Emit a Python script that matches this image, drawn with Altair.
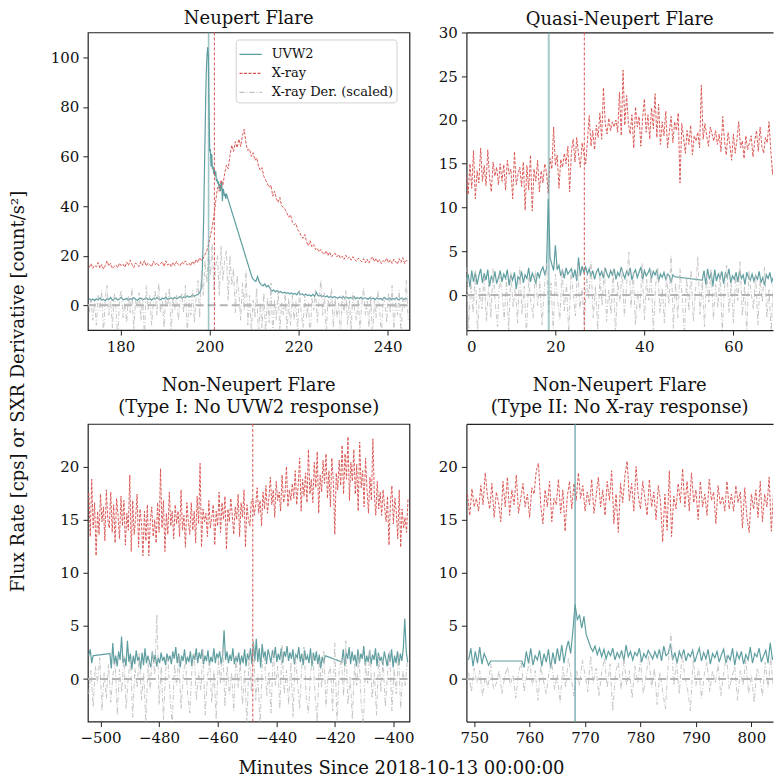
import altair as alt
import pandas as pd

SERIES = ["UVW2", "X-ray", "X-ray Der. (scaled)"]
COLORS = ["#5f9ea0", "#d9534f", "#bdbdbd"]
DASHES = [[1, 0], [3, 1.5], [5, 2, 1, 2]]
FONT = "DejaVu Serif"
FRAME = "#222222"
YLABEL = "Flux Rate [cps] or SXR Derivative [count/s\u00b2]"
XLABEL = "Minutes Since 2018-10-13 00:00:00"

# ---------------- Panel 1: Neupert Flare ----------------
P1_TITLE = "Neupert Flare"
P1_XDOM = [172.7, 244.9]
P1_YDOM = [-10, 110]
P1_XTICKS = [180, 200, 220, 240]
P1_YTICKS = [0, 20, 40, 60, 80, 100]
P1_XR_START, P1_XR_STEP = 173.0, 0.4
P1_XR = [15.2, 16.8, 14.9, 16.1, 15.5, 17.2, 15.0, 16.4, 14.6, 16.0,
         17.9, 15.8, 16.9, 14.8, 15.6, 16.3, 15.1, 17.0, 15.9, 16.6,
         15.3, 17.4, 16.0, 18.2, 16.5, 15.2, 17.1, 16.2, 15.6, 17.6,
         16.1, 18.0, 15.8, 17.0, 16.4, 15.5, 17.8, 16.3, 17.2, 15.9,
         16.8, 17.6, 15.6, 17.9, 16.2, 16.9, 15.5, 17.3, 16.0, 17.7,
         16.4, 15.8, 17.5, 16.6, 17.9, 16.2, 17.0, 15.9, 17.8, 16.5,
         18.5, 17.2, 19.2, 18.0, 19.0, 20.5, 22.0, 24.5, 28.0, 31.5,
         36.0, 42.0, 47.5, 46.0, 50.5, 48.5, 53.0, 56.5, 55.0, 60.5,
         64.5, 62.0, 66.0, 63.5, 67.0, 64.0, 68.5, 71.0, 65.0, 62.5,
         63.0, 60.0, 61.5, 58.5, 59.5, 56.0, 54.5, 55.5, 52.0, 50.5,
         49.0, 47.5, 48.5, 44.0, 46.0, 43.0, 41.5, 43.5, 40.0, 39.5,
         38.5, 37.0, 35.5, 36.5, 33.5, 32.5, 33.0, 30.5, 29.5, 28.0,
         27.0, 28.5, 25.5, 24.0, 26.0, 23.5, 24.5, 22.5, 23.0, 21.5,
         22.5, 21.0, 20.5, 22.0, 20.0, 21.5, 19.5, 20.5, 21.0, 19.5,
         20.5, 19.0, 19.8, 18.5, 20.2, 18.8, 19.5, 18.2, 19.6, 18.4,
         17.8, 19.0, 18.2, 17.5, 18.8, 17.2, 18.6, 17.0, 18.5, 19.6,
         17.6, 18.9, 17.2, 18.4, 16.8, 18.0, 17.4, 19.0, 17.1, 18.3,
         16.9, 18.6, 17.5, 16.6, 18.8, 17.3, 19.2, 16.8, 18.1, 17.6]
P1_UV_SEGS = [
    (173.0, 0.4, [2.8, 2.0, 2.5, 1.9, 2.6, 2.2, 3.0, 2.1, 2.4, 1.8,
                  2.7, 2.3, 3.2, 2.0, 2.5, 2.9, 2.1, 2.6, 3.3, 2.2,
                  2.4, 2.8, 2.0, 2.7, 2.3, 3.1, 2.4, 2.0, 2.6, 2.9,
                  2.2, 2.5, 3.0, 2.3, 2.7, 2.1, 2.8, 2.4, 3.2, 2.5,
                  2.2, 2.9, 2.6, 3.3, 2.4, 2.8, 3.0, 2.5, 3.2, 2.7,
                  3.0, 3.6, 2.9, 3.4, 3.1, 3.8, 3.3, 3.5, 4.2, 3.6,
                  4.0, 4.4, 5.0]),
    (198.1, 0.15, [6.5, 9.5, 15, 24, 36, 52, 68, 84, 95, 101,
                   104, 100, 78, 62, 63, 56, 61, 55, 56, 53,
                   55, 52, 54, 50, 51, 49, 50, 47, 49, 46,
                   48, 50, 42, 47, 46, 44, 45, 43, 45, 44]),
    (209.6, 0.4, [11.0, 10.2, 9.6, 11.6, 9.2, 8.4, 7.8, 8.6, 7.4, 8.0,
                  6.8, 5.6, 6.2, 5.4, 5.9, 5.2, 5.6, 4.9, 5.3, 4.8,
                  5.1, 4.6, 5.0, 4.4, 4.8, 4.2, 5.3, 4.3, 4.6, 4.0,
                  4.5, 3.9, 4.2, 3.7, 4.4, 3.6, 5.2, 3.8, 4.1, 3.5,
                  3.9, 3.3, 3.8, 3.1, 3.6, 3.0, 3.5, 3.2, 2.8, 3.4,
                  3.0, 3.5, 2.8, 3.3, 2.7, 3.2, 2.9, 3.6, 2.6, 3.1,
                  2.7, 3.2, 2.5, 3.0, 2.8, 2.4, 3.1, 2.6, 2.9, 2.3,
                  3.0, 2.5, 2.8, 2.2, 3.2, 2.6, 2.4, 2.9, 2.3, 2.7,
                  2.5, 3.0, 2.2, 2.6, 2.9, 2.3, 2.8, 2.5]),
]
P1_DER_START, P1_DER_STEP = 173.0, 0.4
P1_DER = [-3, 2, -6, 1, -8, 4, -2, 6, -12, 3,
          8, -4, 2, -9, 5, -1, -14, 3, 6, -5,
          1, -7, 4, -3, 7, -10, 2, -1, 5, -6,
          3, -13, 8, -2, 4, -8, 1, 6, -4, 9,
          -3, 2, -9, 5, -1, 7, -11, 3, -2, 4,
          -6, 1, 5, -3, 8, -12, 2, -4, 6, -7,
          3, 10, -5, 14, 4, 18, 9, 22, 12, 25,
          6, 16, 20, 4, 24, 10, 18, 22, 2, 20,
          8, 15, -3, 12, 5, -6, 9, -2, 14, -8,
          4, -11, 2, -5, 7, -14, 1, -9, 5, -12,
          3, -7, 9, -13, 2, -6, 6, -10, 1, -4,
          5, -12, 3, -8, 4, -6, 2, -11, 6, -3,
          -9, 4, -5, 1, -14, 3, -2, 6, -7, 2,
          10, -4, 5, -12, 2, -1, 7, -9, 3, -5,
          1, -13, 4, -3, 6, -8, 2, -10, 5, -2,
          -6, 3, -11, 1, 7, -4, 2, -9, 4, -14,
          2, -5, 6, -2, -12, 3, 1, -7, 5, -3,
          8, -10, 2, -4, 6, -13, 3, -1, 10, -6]
P1_UV_PEAK = [199.8]
P1_XR_PEAK = [201.1]

# ---------------- Panel 2: Quasi-Neupert Flare ----------------
P2_TITLE = "Quasi-Neupert Flare"
P2_XDOM = [0, 68.9]
P2_YDOM = [-4, 30]
P2_XTICKS = [0, 20, 40, 60]
P2_YTICKS = [0, 5, 10, 15, 20, 25, 30]
P2_XR_START, P2_XR_STEP = 0.0, 0.4
P2_XR = [13.5, 11.5, 15.0, 12.2, 16.5, 11.0, 14.2, 12.8, 16.8, 13.0,
         14.8, 12.5, 16.6, 13.4, 11.8, 15.2, 13.6, 14.6, 12.6, 15.0,
         13.0, 14.9, 12.0, 15.4, 13.8, 14.4, 11.0, 16.4, 12.6, 13.8,
         14.6, 12.4, 15.2, 9.7, 14.8, 12.0, 16.0, 9.6, 14.4, 13.0,
         15.4, 11.8, 14.2, 12.8, 15.0, 14.0, 11.6, 15.6, 14.4, 19.2,
         14.8, 16.0, 12.2, 15.5, 14.6, 16.2, 15.0, 17.0, 11.8, 16.4,
         17.8, 15.2, 18.0, 16.0, 14.6, 17.4, 16.2, 15.0, 17.6, 20.5,
         17.0, 18.8, 16.6, 19.4, 18.0, 20.8, 17.8, 23.7, 19.6, 18.4,
         20.2, 18.8, 19.8, 19.2, 20.0, 18.6, 23.2, 18.2, 25.7, 19.4,
         22.8, 19.6, 18.4, 20.6, 16.8, 21.5, 19.2, 20.4, 17.0, 20.2,
         22.4, 18.6, 20.6, 17.8, 21.4, 19.0, 23.0, 18.0, 21.8, 17.2,
         19.8, 18.2, 21.0, 16.8, 18.6, 20.4, 17.4, 19.8, 18.8, 20.8,
         12.8, 19.6, 18.0, 16.2, 18.8, 17.2, 19.4, 16.0, 18.2, 17.6,
         18.6, 16.8, 24.0, 17.8, 19.6, 18.2, 17.0, 19.2, 18.4, 17.6,
         18.8, 17.2, 18.4, 16.4, 20.4, 17.6, 16.0, 18.6, 17.2, 15.4,
         18.4, 16.2, 17.8, 19.8, 16.8, 17.6, 15.6, 18.2, 16.6, 17.4,
         18.2, 15.8, 17.6, 18.8, 16.4, 19.2, 17.0, 16.2, 18.0, 17.4,
         19.8, 16.6, 13.8, 16.0, 17.2, 15.6, 18.0, 16.4, 17.8, 15.8,
         16.6]
P2_UV_SEGS = [
    (0.0, 0.4, [1.6, 2.4, 0.9, 2.8, 1.5, 2.6, 1.2, 2.2, 3.0, 1.4,
                2.5, 1.7, 2.9, 1.0, 2.2, 1.6, 2.7, 1.3, 2.0, 2.8,
                1.5, 2.4, 1.9, 2.9, 1.1, 2.3, 1.7, 2.6, 0.7, 2.1,
                1.8, 2.7, 1.4, 2.3, 1.9, 3.1, 1.5, 2.5, 2.0, 1.3,
                2.6, 2.0, 2.8, 3.2, 2.4, 3.0, 11.0, 4.3, 3.5, 2.8,
                5.7, 2.9, 3.4, 2.2, 2.8, 1.9, 3.1, 2.4, 2.7, 3.0,
                2.0, 2.9, 1.6, 4.3, 2.2, 3.3, 2.6, 3.2, 2.4, 3.0,
                2.1, 2.8, 1.8, 2.6, 3.0, 2.2, 2.7, 1.9, 3.1, 2.4,
                2.0, 2.8, 2.3, 3.0, 1.8, 2.6, 2.2, 3.2, 2.5, 1.9,
                2.7, 2.3, 3.1, 1.7, 2.5, 2.9, 2.0, 2.6, 3.2, 1.8,
                2.8, 2.2, 2.5, 3.0, 1.9, 2.7, 2.3, 2.9, 1.6, 2.4,
                2.0, 2.6, 1.8, 2.4, 2.2, 1.5, 2.3, 2.1]),
    (53.0, 0.4, [1.7, 2.8, 1.2, 3.0, 1.8, 2.6, 1.0, 2.9, 1.6, 2.4,
                 1.9, 2.7, 1.3, 2.5, 2.0, 3.0, 1.4, 2.2, 1.8, 2.6,
                 1.5, 2.8, 1.9, 2.3, 1.2, 2.6, 2.0, 1.7, 2.4, 1.6,
                 2.2, 1.8, 2.7, 1.4, 2.0, 1.1, 2.3, 1.9, 2.6, 1.5,
                 2.1, 2.4, 1.6, 2.8, 1.9, 2.5, 1.4, 2.7, 2.2]),
]
P2_DER_START, P2_DER_STEP = 0.0, 0.5
P2_DER = [3.2, -3.8, 1.5, -2.0, 2.8, -4.5, 0.8, -1.6, 2.4, -3.0,
          1.2, -2.6, 3.0, -1.0, -3.6, 2.2, 0.4, -2.8, 1.8, -4.2,
          2.6, -1.4, 0.9, -3.2, 3.2, -2.2, 1.0, -4.6, 2.0, -0.8,
          -2.6, 2.8, -1.2, 1.6, -3.4, 0.6, 3.6, -2.0, 1.4, -3.8,
          2.4, -0.6, -2.8, 3.0, -1.8, 1.2, -4.4, 2.6, 0.2, -2.4,
          3.4, -1.6, 0.8, -3.6, 2.2, -0.4, 3.8, -2.6, 1.0, -4.0,
          2.0, -1.2, 3.2, -3.0, 0.6, -2.2, 2.8, -4.8, 1.6, -0.8,
          3.0, -2.4, 1.2, 4.9, -1.4, 2.6, -3.4, 0.4, -1.8, 3.6,
          -2.8, 1.8, -0.6, 2.8, -4.2, 1.0, 3.2, -2.0, 0.8, -3.2,
          2.2, -1.0, 4.5, -3.8, 1.4, -2.6, 3.0, -0.4, -4.6, 2.0,
          -1.8, 2.8, -3.0, 0.6, 4.4, -2.2, 1.6, -3.6, 2.4, -0.8,
          3.0, -2.8, 1.2, -1.4, 2.6, -4.0, 0.8, 3.4, -2.0, 1.4,
          -3.2, 2.2, -0.6, 3.8, -2.4, 1.0, -4.4, 2.8, 0.2, -1.6,
          2.4, -3.4, 1.8, -0.8, 3.2, -2.6, 0.6, -4.2, 2.0, -1.2,
          3.0, -2.2, 1.4, -3.6, 2.6]
P2_UV_PEAK = [18.5]
P2_XR_PEAK = [26.5]

# ---------------- Panel 3: Non-Neupert Type I ----------------
P3_TITLE = ["Non-Neupert Flare", "(Type I: No UVW2 response)"]
P3_XDOM = [-504.3, -394.5]
P3_YDOM = [-4, 24]
P3_XTICKS = [-500, -480, -460, -440, -420, -400]
P3_YTICKS = [0, 5, 10, 15, 20]
P3_XR_START, P3_XR_STEP = -504.0, 0.5
P3_XR = [17.5, 13.4, 18.8, 14.2, 16.6, 11.6, 15.8, 13.6, 17.4, 14.8,
         16.2, 13.0, 17.8, 15.0, 14.2, 17.6, 13.8, 16.4, 12.8, 17.0,
         15.4, 13.2, 17.2, 14.4, 16.8, 12.6, 15.6, 14.0, 19.2, 12.0,
         16.8, 13.6, 15.2, 17.4, 12.4, 16.0, 14.6, 11.6, 15.8, 13.0,
         16.4, 11.6, 14.8, 16.2, 13.4, 15.0, 12.8, 16.6, 13.8, 19.8,
         14.2, 16.8, 12.0, 15.6, 13.6, 17.6, 14.4, 15.8, 13.2, 16.4,
         14.6, 15.8, 13.4, 17.8, 14.0, 15.4, 12.4, 16.6, 14.8, 13.6,
         16.6, 14.0, 15.8, 12.8, 17.2, 14.6, 20.3, 12.4, 16.0, 14.8,
         15.6, 13.4, 16.8, 14.2, 15.2, 16.4, 12.6, 15.8, 14.4, 17.6,
         13.8, 16.6, 15.0, 17.2, 12.2, 16.0, 14.8, 17.0, 15.4, 13.6,
         16.2, 15.0, 17.4, 13.4, 16.6, 15.2, 17.8, 12.4, 16.4, 15.0,
         14.4, 16.8, 17.0, 15.4, 16.4, 18.0, 15.6, 16.8, 14.4, 17.6,
         16.0, 18.2, 15.6, 17.0, 19.0, 16.4, 17.8, 15.2, 18.6, 16.8,
         17.6, 15.8, 19.2, 16.6, 17.4, 20.0, 16.2, 17.8, 16.8, 18.4,
         17.0, 19.6, 16.4, 18.2, 20.8, 15.8, 18.8, 17.2, 19.4, 16.6,
         21.6, 17.4, 18.8, 16.6, 20.4, 18.0, 21.4, 15.6, 19.2, 17.6,
         20.6, 18.4, 21.2, 17.0, 19.6, 16.2, 20.8, 18.6, 13.6, 19.4,
         17.8, 20.6, 18.2, 22.0, 17.4, 21.2, 18.8, 22.8, 16.8, 20.4,
         18.6, 21.6, 17.4, 20.2, 15.8, 22.3, 18.0, 19.6, 16.2, 20.8,
         17.8, 15.6, 19.0, 16.8, 22.6, 17.4, 15.4, 18.6, 16.0, 17.6,
         15.4, 17.8, 16.2, 14.8, 17.2, 12.6, 16.6, 18.2, 14.6, 17.0,
         15.8, 13.2, 17.8, 12.4, 16.0, 14.2, 15.2, 13.8, 17.0]
P3_UV_SEGS = [
    (-504.0, 0.5, [2.2, 2.8, 1.5, 2.2]),
    (-496.8, 0.5, [2.4, 1.0, 3.4, 1.4, 2.2, 1.2, 2.6, 1.8, 4.0, 1.5,
                   2.0, 1.2, 3.6, 1.6, 2.4, 0.9, 2.2, 1.4, 2.7, 1.7,
                   2.1, 0.9, 2.5, 1.3, 2.9, 1.5, 2.2, 1.6, 1.1, 2.6,
                   1.6, 2.3, 1.2, 2.0, 1.5, 2.5, 1.7, 2.1, 1.3, 2.4,
                   1.8, 2.2, 1.4, 2.6, 1.9, 3.0, 1.5, 2.4, 1.1, 2.2,
                   1.7, 2.8, 1.4, 2.1, 1.6, 2.6, 1.2, 2.3, 1.8, 2.9,
                   1.5, 2.5, 1.9, 2.8, 1.4, 2.2, 1.7, 2.7, 1.3, 2.1,
                   1.6, 2.9, 1.5, 2.4, 2.0, 2.6, 1.4, 2.2, 4.6, 1.8,
                   2.6, 1.5, 2.3, 1.7, 2.9, 1.4, 2.1, 1.6, 2.5, 1.3,
                   2.2, 1.5, 2.8, 1.2, 2.4, 1.8, 2.9, 1.4, 3.5, 1.7,
                   3.8, 1.6, 2.9, 1.1, 3.3, 2.0, 2.6, 1.4, 2.8, 2.2,
                   1.5, 2.7, 2.0, 3.0, 1.6, 2.4, 1.8, 2.9, 1.5, 2.6,
                   2.1, 3.1, 1.7, 2.5, 1.9, 2.8, 1.4, 2.3, 2.0, 3.0,
                   1.6, 2.4, 1.3, 2.7, 1.8, 2.2, 1.5, 2.9, 1.2, 2.5,
                   1.7, 2.6, 1.4, 2.3, 1.0, 2.1, 1.5, 2.2]),
    (-417.6, 0.5, [1.6, 2.8, 1.2, 2.5, 1.9, 3.0, 1.4, 2.6, 1.7, 2.3,
                   1.2, 2.8, 1.5, 2.4, 1.9, 3.1, 1.3, 2.2, 1.6, 2.7,
                   1.4, 2.3, 1.8, 2.9, 1.2, 2.5, 1.7, 2.1, 1.3, 2.6,
                   1.9, 1.2, 2.4, 1.6, 2.8, 1.1, 2.2, 1.5, 2.6, 1.3,
                   2.4, 1.7, 2.9, 5.7, 2.6, 1.6]),
]
P3_DER_START, P3_DER_STEP = -504.0, 0.75
P3_DER = [-1.4, 0.8, -2.6, 1.2, -0.4, 2.0, -3.0, 0.6, -1.8, 1.4,
          -2.2, 0.4, 1.6, -3.4, 0.9, -1.2, 2.2, -2.8, 0.2, 1.8,
          -3.6, 1.0, -0.8, 2.4, -2.0, 0.6, -4.2, 1.5, -1.0, 2.6,
          0.4, 6.1, -2.4, 1.2, -3.8, 0.8, 2.0, -1.6, -4.5, 1.4,
          -0.6, 2.2, -2.8, 0.4, 1.8, -1.4, -3.2, 1.0, 2.4, -2.0,
          0.6, -1.0, 2.8, -3.4, 0.2, 1.6, -2.2, 0.8, -3.8, 2.0,
          -0.4, 3.0, -2.6, 1.2, -1.4, 0.6, -3.0, 2.2, -0.8, 1.4,
          -2.4, 0.8, -4.5, 2.6, -1.2, 3.4, -2.0, 0.4, -4.6, 1.6,
          2.0, -1.6, 0.6, -3.2, 2.8, -0.6, 1.2, -2.8, 3.2, -1.4,
          0.8, -2.4, 1.6, -3.6, 2.2, -0.2, -2.8, 1.4, 3.0, -1.8,
          -3.2, 0.6, 2.4, -1.4, -4.0, 1.8, -0.8, 2.6, -2.6, 0.4,
          1.2, -3.0, 3.4, -4.2, 0.8, 2.0, -1.6, 3.6, -2.4, 0.2,
          -3.8, 1.4, -0.6, 2.4, -2.2, -4.4, 1.6, -0.4, 2.8, -1.8,
          0.6, -3.4, 2.2, -1.2, 1.8, -2.6, 0.4, 2.6, -3.0, 1.0,
          -1.4, 2.4, -2.8, 0.8, -0.6, 1.6]
P3_UV_PEAK = []
P3_XR_PEAK = [-448.0]

# ---------------- Panel 4: Non-Neupert Type II ----------------
P4_TITLE = ["Non-Neupert Flare", "(Type II: No X-ray response)"]
P4_XDOM = [748.6, 803.9]
P4_YDOM = [-4, 24]
P4_XTICKS = [750, 760, 770, 780, 790, 800]
P4_YTICKS = [0, 5, 10, 15, 20]
P4_XR_START, P4_XR_STEP = 748.8, 0.4
P4_XR = [17.4, 15.4, 17.9, 16.2, 17.0, 15.8, 18.2, 16.4, 19.4, 17.2,
         16.0, 18.4, 15.2, 17.6, 16.6, 14.8, 18.6, 16.2, 19.0, 15.4,
         17.8, 16.4, 19.2, 15.6, 17.0, 18.4, 16.2, 17.4, 15.2, 18.0,
         17.4, 19.6, 20.3, 16.4, 14.6, 17.8, 16.2, 18.6, 14.8, 17.0,
         16.4, 18.8, 15.6, 17.8, 13.9, 17.2, 18.6, 16.0, 18.4, 16.8,
         19.4, 17.0, 18.2, 15.8, 17.6, 16.4, 18.8, 15.6, 17.2, 19.0,
         16.2, 17.8, 15.4, 18.6, 16.8, 19.6, 14.6, 17.4, 13.8, 18.4,
         16.6, 19.2, 20.5, 16.8, 18.4, 15.8, 20.0, 17.2, 16.0, 18.6,
         17.0, 15.4, 18.8, 16.2, 17.6, 15.0, 18.2, 16.8, 12.9, 17.4,
         14.0, 19.6, 13.4, 17.2, 16.0, 18.4, 16.6, 19.8, 16.2, 18.6,
         15.8, 19.4, 16.6, 17.8, 15.0, 18.6, 16.2, 17.4, 15.4, 18.8,
         16.8, 17.6, 14.6, 18.2, 16.4, 17.2, 15.8, 18.6, 16.0, 17.4,
         15.8, 18.2, 16.6, 17.6, 14.2, 18.0, 15.2, 13.8, 17.4, 16.0,
         17.8, 15.2, 18.6, 14.8, 17.4, 16.2, 19.0, 13.9, 17.6, 19.6,
         17.0, 20.4, 15.6, 19.8, 16.4]
P4_UV_SEGS = [
    (749.0, 0.4, [1.8, 2.9, 1.2, 2.6, 1.5, 3.0, 1.4, 2.4, 1.9, 1.3, 1.7]),
    (758.6, 0.4, [1.7, 1.1, 2.6, 1.5, 2.9, 1.3, 2.2, 1.8, 2.7, 1.2,
                  2.4, 1.6, 2.8, 1.0, 2.5, 1.4, 2.9, 1.7, 3.2, 1.5,
                  2.8, 3.6, 2.4, 4.5, 7.0, 5.6, 6.0, 4.8, 5.9, 4.2,
                  3.6, 3.0, 2.6, 3.1, 2.3, 2.9, 2.1, 2.8, 1.9, 2.6,
                  2.2, 2.9, 1.8, 2.5, 2.0, 2.7, 1.7, 3.2, 2.1, 2.6,
                  1.8, 2.5, 2.2, 2.9, 1.6, 2.4, 2.0, 2.7, 2.3, 1.9,
                  2.6, 2.0, 2.8, 1.7, 3.1, 2.2, 2.4, 3.3, 1.8, 2.5,
                  1.5, 2.6, 2.0, 2.8, 1.7, 2.4, 2.1, 2.7, 1.6, 2.3,
                  2.9, 1.7, 2.5, 1.9, 2.8, 1.4, 2.4, 2.0, 2.6, 1.6,
                  2.3, 2.8, 1.5, 2.2, 1.8, 2.9, 1.3, 2.5, 1.9, 2.6,
                  1.4, 2.3, 1.8, 3.0, 1.5, 2.4, 2.1, 2.9, 1.6, 2.2,
                  2.7, 1.5, 3.4, 1.8, 2.5, 1.3, 2.2, 1.9, 2.4, 1.6]),
]
P4_DER_START, P4_DER_STEP = 749.0, 0.5
P4_DER = [0.6, -1.2, 1.0, -0.4, 0.8, -1.6, 0.2, -0.8, 1.4, -1.0,
          -0.4, 0.8, -1.4, 0.2, 1.2, -0.6, 0.4, -1.8, 0.6, 1.6,
          -1.2, 0.4, 1.8, -0.6, 0.8, -2.0, 1.2, -0.2, -1.4, 0.6,
          1.6, -1.0, 0.4, -2.2, 1.2, -0.8, 2.0, 0.2, -1.6, 0.8,
          -0.6, 1.8, 0.4, -1.2, 2.2, -0.4, 1.0, -1.6, 0.6, 2.0,
          -0.8, 1.4, -3.0, 0.6, 1.6, -1.0, 2.0, -0.6, 0.8, -1.8,
          1.2, -0.4, 1.8, -1.4, 0.4, 2.2, -0.8, 1.0, -2.4, 0.6,
          -1.2, -2.8, 1.4, 4.3, -0.6, 1.6, -1.4, 2.4, 0.2, -1.0,
          -3.0, 1.8, -0.6, 1.0, -1.8, 0.4, 1.6, -1.2, 0.8, -0.4,
          1.4, -1.6, 0.6, 2.2, -1.0, 0.2, 1.2, -2.0, 0.8, -0.6,
          1.8, -1.4, 0.4, -2.2, 1.0, 0.2, -1.6, 1.6, -0.8, 2.0,
          -1.0, 0.8, -2.6, 1.2, -3.2, 0.6]
P4_UV_PEAK = [768.2]
P4_XR_PEAK = []


def regular(start, step, values, name):
    return pd.DataFrame({"t": [round(start + i * step, 4) for i in range(len(values))],
                         "v": values, "s": name})


def segmented(segs, name):
    return pd.concat([regular(a, b, c, name) for a, b, c in segs], ignore_index=True)


def panel(title, xdom, ydom, xticks, yticks, uv, xr, der, uv_peaks, xr_peaks,
          width=322, title_offset=5, open_right=False,
          uv_rule_opacity=0.6, uv_rule_width=1.6, legend=None, texts=()):
    xs = alt.Scale(domain=xdom, nice=False, zero=False)
    ys = alt.Scale(domain=ydom, nice=False, zero=False)
    dom = dict(domain=True, domainColor=FRAME, domainWidth=1.2) if open_right else {}
    xax = alt.Axis(values=xticks, format="d", title=None, **dom)
    yax = alt.Axis(values=yticks, format="d", title=None, **dom)
    cs = alt.Scale(domain=SERIES, range=COLORS)
    ds = alt.Scale(domain=SERIES, range=DASHES)
    col = alt.Color("s:N", scale=cs, legend=legend)
    dash = alt.StrokeDash("s:N", scale=ds, legend=legend)

    def line(df, width_, opacity, axis):
        return alt.Chart(df).mark_line(clip=True, strokeWidth=width_, opacity=opacity).encode(
            x=alt.X("t:Q", scale=xs, axis=axis),
            y=alt.Y("v:Q", scale=ys, axis=yax),
            color=col, strokeDash=dash)

    other_x_axis = None if open_right else xax
    layers = [line(uv, 1.2, 1.0, xax), line(xr, 1.0, 0.95, other_x_axis),
              line(der, 1.0, 0.85, other_x_axis)]
    top_axis = alt.Axis(orient="top", labels=False, ticks=False, domain=True,
                        domainColor=FRAME, domainWidth=1.2, grid=False, title=None)
    zero_df = pd.DataFrame({"x0": [xdom[0]], "x1": [xdom[1]], "v": [0]})
    layers.append(alt.Chart(zero_df).mark_rule(
        color="#b3b3b3", strokeDash=[8, 4], strokeWidth=2).encode(
        x=alt.X("x0:Q", scale=xs, axis=top_axis if open_right else xax),
        x2="x1:Q",
        y=alt.Y("v:Q", scale=ys, axis=yax)))
    if uv_peaks:
        layers.append(alt.Chart(pd.DataFrame({"t": uv_peaks})).mark_rule(
            color=COLORS[0], strokeWidth=uv_rule_width, opacity=uv_rule_opacity).encode(
            x=alt.X("t:Q", scale=xs, axis=other_x_axis)))
    if xr_peaks:
        layers.append(alt.Chart(pd.DataFrame({"t": xr_peaks})).mark_rule(
            color=COLORS[1], strokeWidth=1, strokeDash=[3, 2]).encode(
            x=alt.X("t:Q", scale=xs, axis=other_x_axis)))
    for txt, px, py, ang in texts:
        layers.append(alt.Chart(pd.DataFrame({"txt": [txt]})).mark_text(
            font=FONT, fontSize=18, color="#111", angle=ang, align="center",
            baseline="middle").encode(text="txt:N", x=alt.value(px), y=alt.value(py)))
    ch = alt.layer(*layers).properties(
        width=width, height=298,
        title=alt.TitleParams(text=title, font=FONT, fontSize=18, fontWeight="normal",
                              color="#111", offset=title_offset, lineHeight=22))
    if open_right:
        ch = ch.resolve_axis(x="independent").properties(
            view=alt.ViewBackground(stroke="transparent"))
    return ch


legend = alt.Legend(orient="none", legendX=148, legendY=7, title=None,
                    fillColor="white", strokeColor="#d0d0d0", cornerRadius=3,
                    padding=3, labelFont=FONT, labelFontSize=13, labelColor="#111",
                    symbolType="stroke", symbolSize=500, symbolStrokeWidth=1.3,
                    labelOffset=9, rowPadding=0)

p1 = panel(P1_TITLE, P1_XDOM, P1_YDOM, P1_XTICKS, P1_YTICKS,
           segmented(P1_UV_SEGS, SERIES[0]),
           regular(P1_XR_START, P1_XR_STEP, P1_XR, SERIES[1]),
           regular(P1_DER_START, P1_DER_STEP, P1_DER, SERIES[2]),
           P1_UV_PEAK, P1_XR_PEAK, title_offset=3.5, legend=legend,
           texts=[(YLABEL, -69, 359.5, 270)])
p2 = panel(P2_TITLE, P2_XDOM, P2_YDOM, P2_XTICKS, P2_YTICKS,
           segmented(P2_UV_SEGS, SERIES[0]),
           regular(P2_XR_START, P2_XR_STEP, P2_XR, SERIES[1]),
           regular(P2_DER_START, P2_DER_STEP, P2_DER, SERIES[2]),
           P2_UV_PEAK, P2_XR_PEAK, width=307, title_offset=-4, open_right=True,
           uv_rule_opacity=0.55, uv_rule_width=2)
p3 = panel(P3_TITLE, P3_XDOM, P3_YDOM, P3_XTICKS, P3_YTICKS,
           segmented(P3_UV_SEGS, SERIES[0]),
           regular(P3_XR_START, P3_XR_STEP, P3_XR, SERIES[1]),
           regular(P3_DER_START, P3_DER_STEP, P3_DER, SERIES[2]),
           P3_UV_PEAK, P3_XR_PEAK, title_offset=6.5,
           texts=[(XLABEL, 314, 345.2, 0)])
p4 = panel(P4_TITLE, P4_XDOM, P4_YDOM, P4_XTICKS, P4_YTICKS,
           segmented(P4_UV_SEGS, SERIES[0]),
           regular(P4_XR_START, P4_XR_STEP, P4_XR, SERIES[1]),
           regular(P4_DER_START, P4_DER_STEP, P4_DER, SERIES[2]),
           P4_UV_PEAK, P4_XR_PEAK, width=307, title_offset=6.5, open_right=True,
           uv_rule_opacity=1.0, uv_rule_width=1.2)

chart = alt.concat(p1, p2, p3, p4, columns=2, spacing={"row": 94, "column": 57},
                   bounds="flush").resolve_scale(
    color="independent", strokeDash="independent").properties(
    padding={"left": 1, "top": 1, "right": 0, "bottom": 0}
).configure_axis(
    labelFont=FONT, labelFontSize=15, labelColor="#111", tickColor=FRAME,
    tickSize=5, tickWidth=1, labelPadding=4, domain=False, grid=False
).configure_view(stroke=FRAME, strokeWidth=1.2)

chart.save("out.html", embed_options={"renderer": "svg", "actions": False})
